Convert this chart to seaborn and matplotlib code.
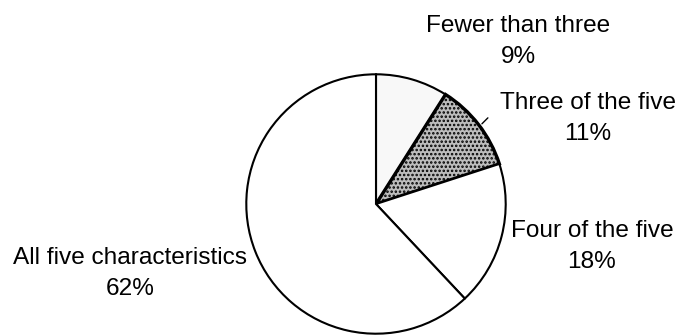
import matplotlib
matplotlib.use("Agg")
import matplotlib.pyplot as plt
import seaborn as sns

categories = ["Fewer than three", "Three of the five", "Four of the five", "All five characteristics"]
shares = [9, 11, 18, 62]

sns.set_theme(style="white")
plt.rcParams["font.family"] = ["Liberation Sans", "DejaVu Sans"]
plt.rcParams["hatch.linewidth"] = 1.2

W, H = 681, 336
fig = plt.figure(figsize=(W / 100, H / 100), dpi=100)
fig.patch.set_facecolor("white")

cx, cy, r = 376, 204, 131
ax = fig.add_axes([(cx - r) / W, (H - cy - r) / H, 2 * r / W, 2 * r / H])

faces = ["#f8f8f8", "#bdbdbd", "white", "white"]
hatches = [None, "....", None, None]
wedges, _ = ax.pie(shares, startangle=90, counterclock=False, colors=faces,
                   wedgeprops=dict(edgecolor="black", linewidth=1.5))
for w, h in zip(wedges, hatches):
    if h:
        w.set_hatch(h)
        w.set_linewidth(2.4)
ax.set_xlim(-1.01, 1.01)
ax.set_ylim(-1.01, 1.01)
ax.set_aspect("equal")
ax.axis("off")

label_pos = [(1.095, 1.255), (1.635, 0.66), (1.664, -0.33), (-1.893, -0.535)]
for cat, val, (x, y) in zip(categories, shares, label_pos):
    ax.text(x, y, f"{cat}\n{val}%", ha="center", va="center", fontsize=17.6,
            linespacing=1.55, color="black", clip_on=False)

# short leader line for the "Three of the five" label
ax.plot([(483 - cx) / r, (489 - cx) / r], [(cy - 123) / r, (cy - 117) / r],
        color="black", lw=1.0, clip_on=False)

fig.savefig("out.png", dpi=100, facecolor="white")
